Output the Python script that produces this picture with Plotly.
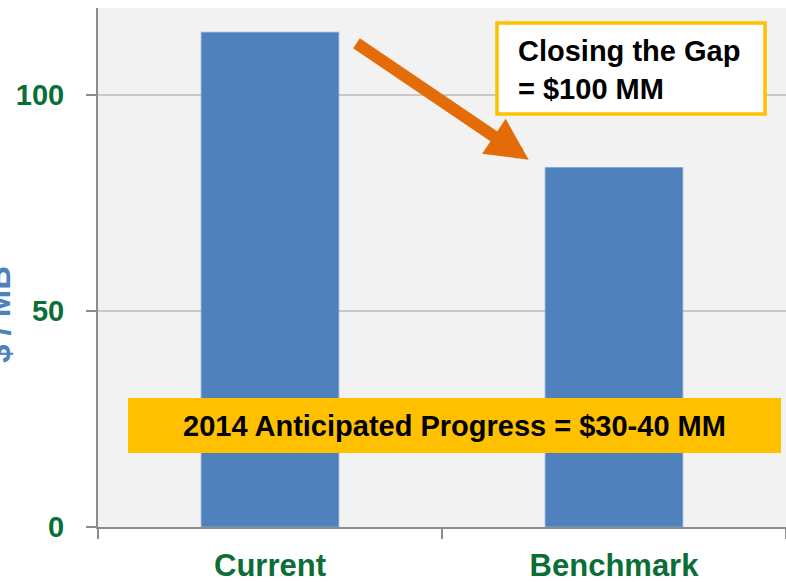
import plotly.graph_objects as go

categories = ["Current", "Benchmark"]
values = [114.4, 83.1]
y_ticks = [0, 50, 100]
y_title = "$ / MB"
gap_text = "Closing the Gap<br>= $100 MM"
progress_text = "2014 Anticipated Progress = $30-40 MM"

GREEN = "#0b6e37"
BLUE = "#4f81bd"
GOLD = "#ffc000"
ORANGE = "#e36c09"
FONT = "Liberation Sans, Arial, sans-serif"

fig = go.Figure()
fig.add_trace(go.Bar(x=categories, y=values, marker=dict(color=BLUE, line=dict(width=0.8, color="#7fa3d3")),
                     showlegend=False, hoverinfo="skip"))

fig.update_layout(
    width=786, height=582,
    margin=dict(l=98, r=0, t=8, b=55),
    paper_bgcolor="white", plot_bgcolor="#f2f2f2",
    bargap=0.6,
    font=dict(family=FONT),
    xaxis=dict(
        type="category", range=[-0.5, 1.5], tickson="boundaries",
        ticks="outside", ticklen=10, tickcolor="#8c8c8c", tickwidth=1.5,
        showline=True, linecolor="#8c8c8c", linewidth=2,
        showgrid=False, automargin=False,
        tickfont=dict(size=31, color=GREEN, family=FONT, weight="bold"),
        ticklabelstandoff=10,
    ),
    yaxis=dict(
        range=[0, 120], tickvals=y_ticks,
        ticks="outside", ticklen=10, tickcolor="#8c8c8c", tickwidth=1.5,
        showline=True, linecolor="#8c8c8c", linewidth=2,
        showgrid=True, gridcolor="#c8c8c8", gridwidth=1.5,
        zeroline=False, automargin=False,
        tickfont=dict(size=29, color=GREEN, family=FONT, weight="bold"),
        ticklabelstandoff=16,
    ),
)

def px_x(p):
    return (p - 98) / 688

def px_y(p):
    return (527 - p) / 519

shapes = [
    dict(type="rect", xref="paper", yref="paper", x0=px_x(497), x1=px_x(765), y0=px_y(114), y1=px_y(23),
         fillcolor="white", line=dict(color=GOLD, width=3.5), layer="above"),
    dict(type="rect", xref="paper", yref="paper", x0=px_x(128), x1=px_x(781), y0=px_y(453), y1=px_y(398),
         fillcolor=GOLD, line=dict(width=0), layer="above"),
]
fig.update_layout(shapes=shapes)

fig.add_annotation(text=gap_text, xref="paper", yref="paper", x=px_x(516), y=px_y(70),
                   xanchor="left", yanchor="middle", align="left", showarrow=False,
                   font=dict(size=29, color="black", family=FONT, weight="bold"))
fig.add_annotation(text=progress_text, xref="paper", yref="paper", x=px_x(454), y=px_y(426),
                   xanchor="center", yanchor="middle", showarrow=False,
                   font=dict(size=29, color="black", family=FONT, weight="bold"))
fig.add_annotation(text=y_title, xref="paper", yref="paper", x=px_x(-2), y=px_y(315),
                   xanchor="center", yanchor="middle", textangle=-90, showarrow=False,
                   font=dict(size=33, color=BLUE, family=FONT, weight="bold"))

# orange arrow from Current toward Benchmark
fig.add_annotation(x=0.752, y=84.9, ax=0.247, ay=112.1, xref="x", yref="y", axref="x", ayref="y",
                   text="", showarrow=True, arrowhead=2, arrowsize=0.7, arrowwidth=12, arrowcolor=ORANGE)

fig.write_html("out.html", config={"displayModeBar": False},
               post_script="document.body.style.margin='0';document.documentElement.style.overflow='hidden';document.body.style.overflow='hidden';")
